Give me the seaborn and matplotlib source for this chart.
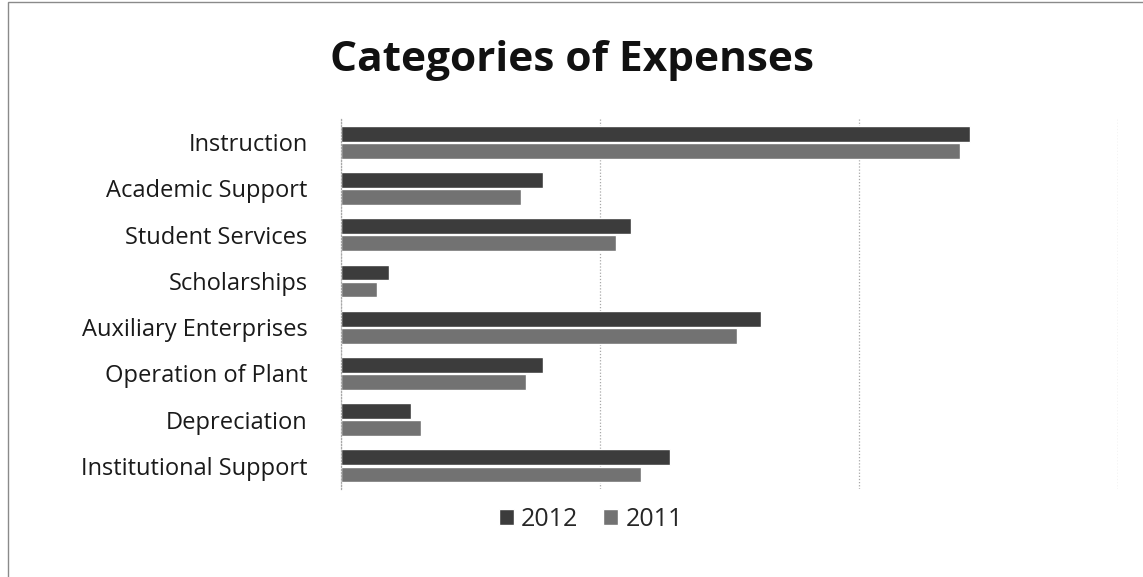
import matplotlib
matplotlib.use("Agg")
import matplotlib.pyplot as plt
import seaborn as sns
import pandas as pd
from matplotlib.patches import Rectangle

categories = ["Instruction", "Academic Support", "Student Services", "Scholarships",
              "Auxiliary Enterprises", "Operation of Plant", "Depreciation",
              "Institutional Support"]
values_2012 = [24.3, 7.8, 11.2, 1.85, 16.2, 7.8, 2.7, 12.7]
values_2011 = [23.9, 6.95, 10.6, 1.4, 15.3, 7.15, 3.1, 11.6]
series = ["2012", "2011"]
x_ticks = [0, 10, 20, 30]

df = pd.DataFrame({
    "Category": categories * 2,
    "Value": values_2012 + values_2011,
    "Year": [series[0]] * len(categories) + [series[1]] * len(categories),
})

sns.set_style("white")
plt.rcParams['font.family'] = ['Open Sans', 'DejaVu Sans']

fig = plt.figure(figsize=(11.43, 5.77), dpi=100)
ax = fig.add_axes([0.2983, 0.1525, 0.6798, 0.641])

palette = {"2012": "#3c3c3c", "2011": "#727272"}
sns.barplot(data=df, y="Category", x="Value", hue="Year", hue_order=series,
            order=categories, orient="h", palette=palette, width=0.74, gap=0.08,
            saturation=1, ax=ax, legend=True)

ax.set_xlim(0, 30)
ax.set_xticks(x_ticks)
ax.set_xticklabels([])
ax.set_xlabel("")
ax.set_ylabel("")
ax.tick_params(axis="both", length=0)
ax.tick_params(axis="y", labelsize=17, pad=24)
for lab in ax.get_yticklabels():
    lab.set_color("#1a1a1a")
ax.xaxis.grid(True, color="#a8a8a8", linestyle=(0, (1, 1.5)), linewidth=0.9)
ax.set_axisbelow(True)
for s in ["top", "right", "bottom"]:
    ax.spines[s].set_visible(False)
ax.spines["left"].set_color("#a8a8a8")
ax.spines["left"].set_linestyle((0, (1, 1.5)))
ax.spines["left"].set_linewidth(0.9)

fig.text(0.5, 0.895, "Categories of Expenses", ha="center", va="center",
         fontsize=30.5, fontweight="bold", color="#111111")

handles, labels = ax.get_legend_handles_labels()
ax.legend_.remove()
fig.legend(handles, labels, loc="center", bbox_to_anchor=(0.517, 0.1), ncol=2,
           frameon=False, fontsize=18, handlelength=0.6, handleheight=0.6,
           handletextpad=0.3, columnspacing=1.0)

fig.patches.append(Rectangle((0.007, -0.1), 1.2, 1.097, transform=fig.transFigure,
                             fill=False, edgecolor="#8a8a8a", linewidth=1.0))

fig.savefig("out.png", dpi=100)
